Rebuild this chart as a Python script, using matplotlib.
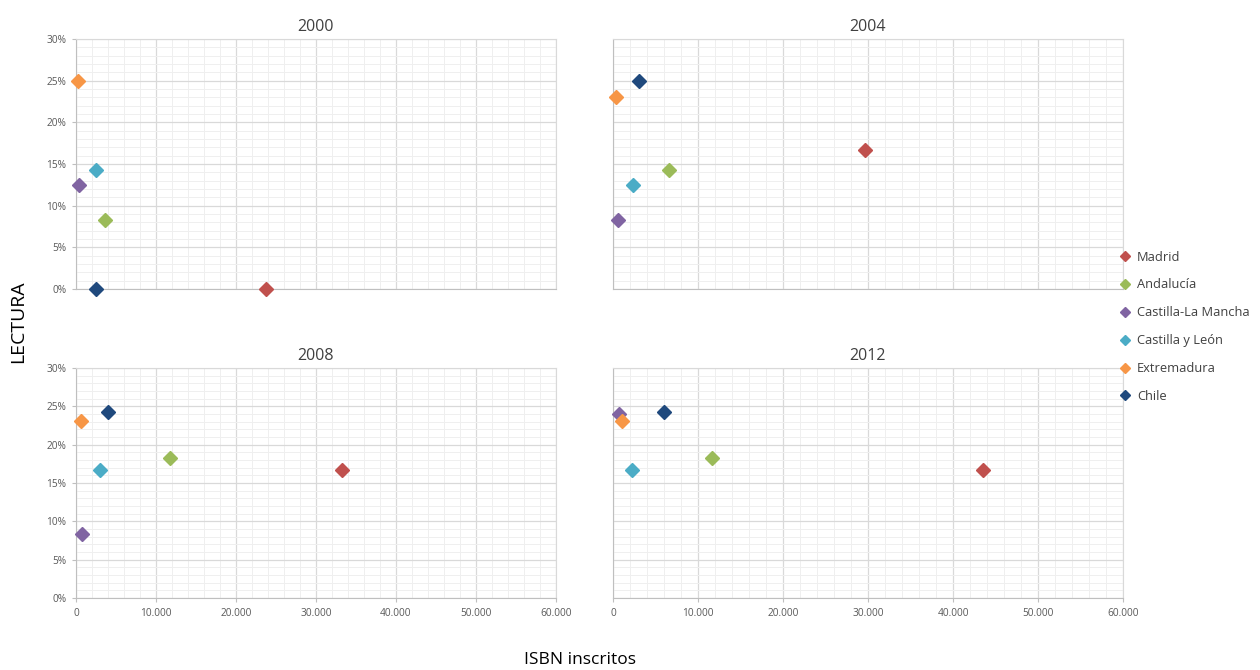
import matplotlib
matplotlib.use("Agg")
import matplotlib.pyplot as plt
from matplotlib.ticker import MultipleLocator, FuncFormatter

plt.rcParams['font.family'] = ['Open Sans', 'DejaVu Sans']

regions = ["Madrid", "Andalucía", "Castilla-La Mancha", "Castilla y León", "Extremadura", "Chile"]
colors = ["#C0504D", "#9BBB59", "#8064A2", "#4BACC6", "#F79646", "#1F497D"]
years = ["2000", "2004", "2008", "2012"]

# ISBN inscritos per region and year
isbn_2000 = [23800, 3600, 400, 2500, 300, 2500]
isbn_2004 = [29700, 6600, 600, 2400, 400, 3100]
isbn_2008 = [33200, 11700, 800, 3000, 600, 4000]
isbn_2012 = [43500, 11600, 700, 2200, 1000, 6000]

# lectura (%)
lect_2000 = [0.0, 8.3, 12.5, 14.3, 25.0, 0.0]
lect_2004 = [16.7, 14.3, 8.3, 12.5, 23.1, 25.0]
lect_2008 = [16.7, 18.2, 8.3, 16.7, 23.1, 24.3]
lect_2012 = [16.7, 18.2, 24.0, 16.7, 23.1, 24.3]

isbn = [isbn_2000, isbn_2004, isbn_2008, isbn_2012]
lect = [lect_2000, lect_2004, lect_2008, lect_2012]

W, H = 1260, 670
fig = plt.figure(figsize=(W / 100, H / 100), dpi=100)

def box(x0, x1, y0, y1):
    return [x0 / W, 1 - y1 / H, (x1 - x0) / W, (y1 - y0) / H]

boxes = [box(76, 556, 39, 289), box(613, 1123, 39, 289),
         box(76, 556, 368, 598), box(613, 1123, 368, 598)]

tick_col = "#595959"
handles = []
for i, yr in enumerate(years):
    ax = fig.add_axes(boxes[i])
    ax.set_xlim(0, 60000)
    ax.set_ylim(0, 30)
    ax.xaxis.set_major_locator(MultipleLocator(10000))
    ax.xaxis.set_minor_locator(MultipleLocator(2000))
    ax.yaxis.set_major_locator(MultipleLocator(5))
    ax.yaxis.set_minor_locator(MultipleLocator(1))
    ax.grid(which="major", color="#D9D9D9", linewidth=0.9)
    ax.grid(which="minor", color="#EFEFEF", linewidth=0.7)
    ax.set_axisbelow(True)
    for s in ax.spines.values():
        s.set_color("#D9D9D9")
    ax.spines["left"].set_color("#BFBFBF")
    ax.spines["bottom"].set_color("#BFBFBF")
    ax.xaxis.set_major_formatter(FuncFormatter(lambda v, p: f"{int(v):,}".replace(",", ".")))
    ax.yaxis.set_major_formatter(FuncFormatter(lambda v, p: f"{int(v)}%"))
    ax.tick_params(which="major", length=3, color="#BFBFBF", labelsize=7.3, labelcolor=tick_col, pad=4)
    ax.tick_params(which="minor", length=0)
    if i < 2:
        ax.tick_params(axis="x", labelbottom=False, length=0)
    if i % 2 == 1:
        ax.tick_params(axis="y", labelleft=False, length=0)
    for j, reg in enumerate(regions):
        h, = ax.plot(isbn[i][j], lect[i][j], linestyle="none", marker="D",
                     markersize=7.5, color=colors[j], label=reg, clip_on=False, zorder=3)
        if i == 0:
            handles.append(h)
    ax.set_title(yr, fontsize=11.5, color="#404040", pad=6)

fig.legend(handles=handles, loc="upper left", bbox_to_anchor=(1106 / W, 1 - 239 / H),
           frameon=False, fontsize=9.3, markerscale=0.65, handletextpad=0.3,
           labelspacing=1.15, handlelength=1.2, labelcolor="#404040")

fig.text(18 / W, 1 - 322 / H, "LECTURA", rotation=90, ha="center", va="center", fontsize=14)
fig.text(580 / W, 1 - 660 / H, "ISBN inscritos", ha="center", va="center", fontsize=12.5)

fig.savefig("out.png", dpi=100)
